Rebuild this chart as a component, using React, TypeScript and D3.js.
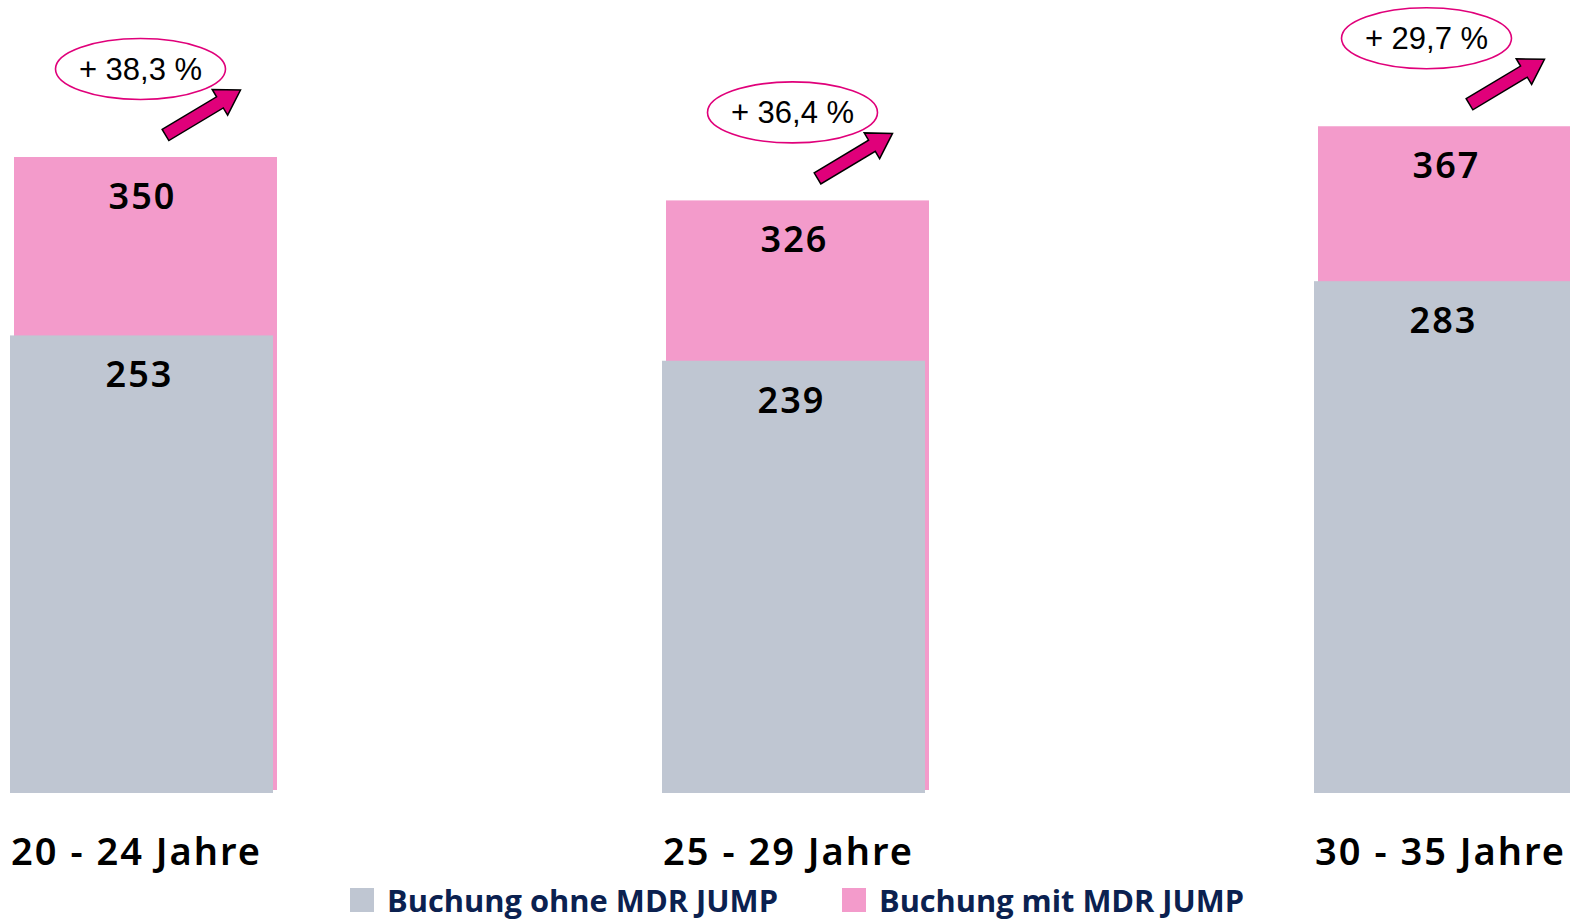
import React from "react";
import * as d3 from "d3";

// data
const categories = ["20 - 24 Jahre", "25 - 29 Jahre", "30 - 35 Jahre"];
const ohneJump = [253, 239, 283];
const mitJump = [350, 326, 367];
const growth = ["+ 38,3 %", "+ 36,4 %", "+ 29,7 %"];
const legendLabels = ["Buchung ohne MDR JUMP", "Buchung mit MDR JUMP"];

const W = 1570;
const H = 920;
const GRAY = "#bfc6d2";
const PINK = "#f39bcb";
const MAGENTA = "#e0007a";
const NAVY = "#0b2150";

// small per-group nudge of the growth bubble (third one sits further left)
const bubbleShift = [0, 0, -18];

const App: React.FC = () => {
  const x = d3
    .scaleBand<string>()
    .domain(categories)
    .range([10, 1577])
    .paddingInner(1 - 263 / 652)
    .paddingOuter(0);
  const bw = x.bandwidth();
  // bar height per unit
  const h = d3.scaleLinear().domain([0, 350]).range([0, 633]);
  const pinkBase = 790;
  const grayBase = 793;

  // arrow in local coords, pointing along +x
  const arrowPath = (len: number) => {
    const sw = 6.5;
    const hw = 15;
    const hl = 24;
    return `M0,${-sw}L${len - hl},${-sw}L${len - hl},${-hw}L${len},0L${len - hl},${hw}L${len - hl},${sw}L0,${sw}Z`;
  };

  return (
    <svg
      width={W}
      height={H}
      style={{ position: "absolute", left: 0, top: 0, background: "#fff" }}
    >
      {categories.map((c, i) => {
        const gx = x(c) ?? 0;
        const cx = gx + bw / 2;
        const pinkTop = pinkBase - h(mitJump[i]);
        const grayTop = grayBase - h(ohneJump[i]);
        const tail = [cx + 24, pinkTop - 22];
        const tip = [cx + 99, pinkTop - 67];
        const len = Math.hypot(tip[0] - tail[0], tip[1] - tail[1]);
        const ang = (Math.atan2(tip[1] - tail[1], tip[0] - tail[0]) * 180) / Math.PI;
        const ex = cx - 1 + bubbleShift[i];
        const ey = pinkTop - 88;
        return (
          <g key={c}>
            <rect x={gx + 4} y={pinkTop} width={bw} height={pinkBase - pinkTop} fill={PINK} />
            <rect x={gx} y={grayTop} width={bw} height={grayBase - grayTop} fill={GRAY} />
            <text
              x={cx + 1}
              y={pinkTop + 52}
              textAnchor="middle"
              fontFamily="Noto Sans"
              fontWeight={600}
              fontSize={36}
              letterSpacing={2}
              fill="#000"
            >
              {mitJump[i]}
            </text>
            <text
              x={cx - 2}
              y={grayTop + 52}
              textAnchor="middle"
              fontFamily="Noto Sans"
              fontWeight={600}
              fontSize={36}
              letterSpacing={2}
              fill="#000"
            >
              {ohneJump[i]}
            </text>
            <text
              x={cx - 5}
              y={865}
              textAnchor="middle"
              fontFamily="Noto Sans"
              fontWeight={600}
              fontSize={38}
              letterSpacing={2}
              fill="#000"
            >
              {c}
            </text>
            <ellipse cx={ex} cy={ey} rx={85} ry={30.5} fill="#fff" stroke={MAGENTA} strokeWidth={1.6} />
            <text
              x={ex}
              y={ey + 11}
              textAnchor="middle"
              fontFamily="Liberation Sans"
              fontSize={31}
              fill="#000"
            >
              {growth[i]}
            </text>
            <path
              d={arrowPath(len)}
              transform={`translate(${tail[0]},${tail[1]}) rotate(${ang})`}
              fill={MAGENTA}
              stroke="#000"
              strokeWidth={1.5}
              strokeLinejoin="miter"
            />
          </g>
        );
      })}
      {legendLabels.map((l, i) => {
        const lx = i === 0 ? 350 : 842;
        return (
          <g key={l} transform={`translate(${lx},888)`}>
            <rect width={24} height={24} fill={i === 0 ? GRAY : PINK} />
            <text
              x={37}
              y={24}
              fontFamily="Open Sans"
              fontWeight={700}
              fontSize={30}
              textLength={i === 0 ? 391 : 365}
              lengthAdjust="spacingAndGlyphs"
              fill={NAVY}
            >
              {l}
            </text>
          </g>
        );
      })}
    </svg>
  );
};

export default App;
